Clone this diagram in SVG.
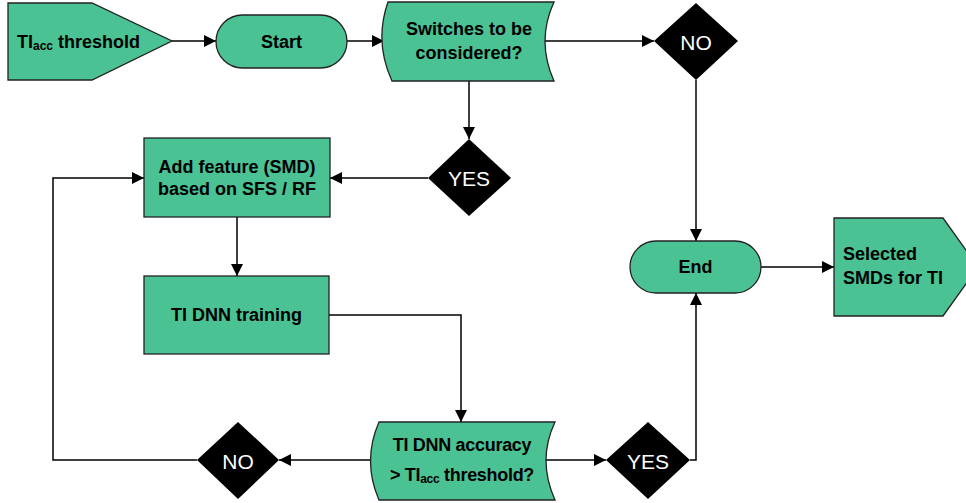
<svg xmlns="http://www.w3.org/2000/svg" width="966" height="503" viewBox="0 0 966 503">
<defs>
<marker id="arr" markerWidth="13" markerHeight="13" viewBox="0 0 13 13" refX="12" refY="6.5" orient="auto" markerUnits="userSpaceOnUse">
<path d="M0,0.5 L12,6.5 L0,12.5 Z" fill="#000"/>
</marker>
<style>
.n{fill:#4AC293;stroke:#222;stroke-width:1.3}
.d{fill:#000;stroke:none}
.t{font-family:"Liberation Sans",Arial,sans-serif;font-weight:bold;font-size:18px;fill:#000;text-anchor:middle;dominant-baseline:central}
.tl{text-anchor:start}
.w{font-family:"Liberation Sans",Arial,sans-serif;font-size:21px;fill:#fff;text-anchor:middle;dominant-baseline:central}
.c{fill:none;stroke:#000;stroke-width:1.5;marker-end:url(#arr)}
</style>
</defs>
<rect width="966" height="503" fill="#fff"/>
<g id="connectors">
<path class="c" d="M172,41 H216"/>
<path class="c" d="M347,41 H384"/>
<path class="c" d="M545,41 H654"/>
<path class="c" d="M469,81 V139"/>
<path class="c" d="M428,178 H330"/>
<path class="c" d="M237,217 V276"/>
<path class="c" d="M329,315 H461 V422"/>
<path class="c" d="M371,460 H279"/>
<path class="c" d="M546,460 H606"/>
<path class="c" d="M690,460 H696 V293"/>
<path class="c" d="M696,80 V241"/>
<path class="c" d="M197,460 H53 V178 H144"/>
<path class="c" d="M761,267 H834"/>
</g>
<g id="ti-acc-threshold">
<path class="n" d="M8,3 H92 L172,41 L92,80 H8 Z"/>
<text class="t tl" x="17" y="42">TI<tspan font-size="12" dy="4">acc</tspan><tspan dy="-4"> threshold</tspan></text>
</g>
<g id="start">
<rect class="n" x="216" y="15" width="131" height="53" rx="26.5"/>
<text class="t" x="281.5" y="41.5">Start</text>
</g>
<g id="switches">
<path class="n" d="M388,2 H554 Q536,41 554,81 H392 Q374,42 388,2 Z"/>
<text class="t" x="469" y="29">Switches to be</text>
<text class="t" x="469" y="53">considered?</text>
</g>
<g id="no-top">
<path class="d" d="M696,3 L738,41 L696,80 L654,41 Z"/>
<text class="w" x="696" y="42">NO</text>
</g>
<g id="yes-top">
<path class="d" d="M469,139 L511,178 L469,216 L428,178 Z"/>
<text class="w" x="469" y="178">YES</text>
</g>
<g id="add-feature">
<rect class="n" x="144" y="138" width="186" height="79"/>
<text class="t" x="237" y="167">Add feature (SMD)</text>
<text class="t" x="237" y="189">based on SFS / RF</text>
</g>
<g id="training">
<rect class="n" x="144" y="276" width="185" height="78"/>
<text class="t" x="236.5" y="315">TI DNN training</text>
</g>
<g id="accuracy">
<path class="n" d="M379,422 H555 Q537,460 555,500 H379 Q362,461 379,422 Z"/>
<text class="t" x="462" y="445" font-size="17" letter-spacing="-0.3">TI DNN accuracy</text>
<text class="t" x="462" y="475" font-size="17" letter-spacing="-0.3">&gt; TI<tspan font-size="12" dy="4">acc</tspan><tspan dy="-4"> threshold?</tspan></text>
</g>
<g id="no-bottom">
<path class="d" d="M238,422 L279,460 L238,499 L197,460 Z"/>
<text class="w" x="238" y="461">NO</text>
</g>
<g id="yes-bottom">
<path class="d" d="M648,422 L690,460 L648,499 L606,460 Z"/>
<text class="w" x="648" y="461">YES</text>
</g>
<g id="end">
<rect class="n" x="630" y="241" width="131" height="52" rx="26"/>
<text class="t" x="695.5" y="267">End</text>
</g>
<g id="selected">
<path class="n" d="M834,218 H943 L978,267 L943,316 H834 Z"/>
<text class="t tl" x="843" y="254">Selected</text>
<text class="t tl" x="843" y="278">SMDs for TI</text>
</g>
</svg>
